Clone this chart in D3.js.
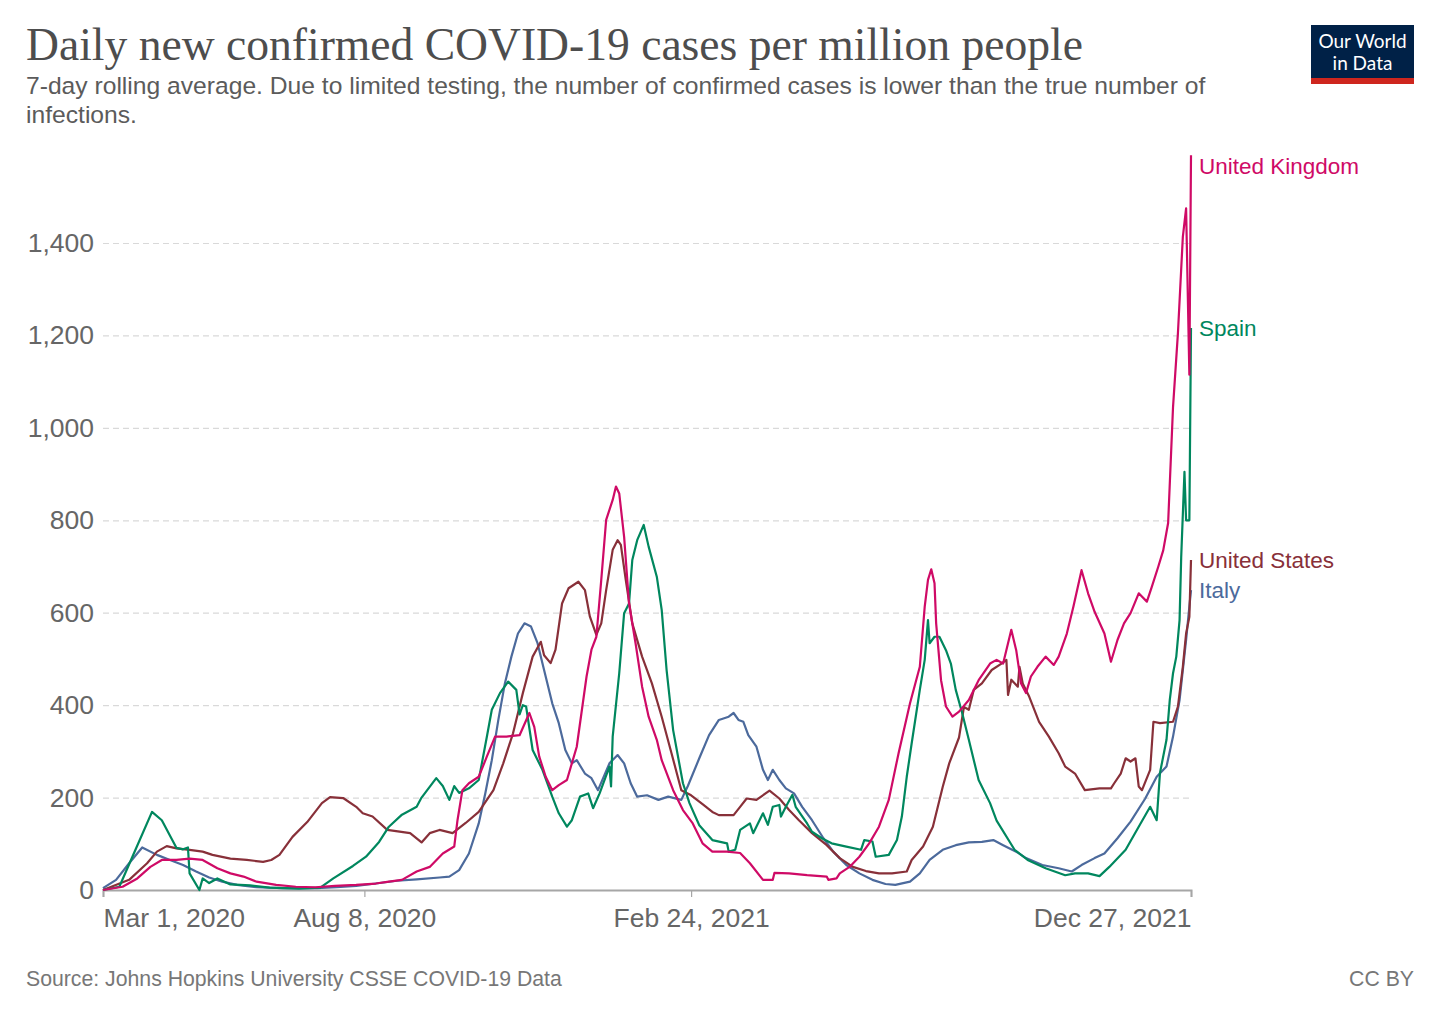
<!DOCTYPE html>
<html><head><meta charset="utf-8">
<script src="https://cdn.jsdelivr.net/npm/d3@7"></script>
<style>body{margin:0;background:#fff} svg{display:block}</style>
</head><body>
<svg id="chart" width="1440" height="1016"></svg>
<script>
const countries = ["United Kingdom","Spain","United States","Italy"];
const colors = ["#CF0A66","#00875E","#883039","#4C6A9C"];

const ukData = [["2020-03-01",0],["2020-03-13",7],["2020-03-22",25],["2020-03-30",50],["2020-04-06",65],["2020-04-15",65],["2020-04-23",68],["2020-05-01",65],["2020-05-10",47],["2020-05-18",36],["2020-05-26",29],["2020-06-03",18],["2020-06-15",11],["2020-06-27",7],["2020-07-09",6],["2020-07-21",9],["2020-08-03",11],["2020-08-15",14],["2020-08-23",18],["2020-08-31",22],["2020-09-09",40],["2020-09-17",50],["2020-09-25",79],["2020-10-02",94],["2020-10-04",151],["2020-10-07",216],["2020-10-11",231],["2020-10-17",245],["2020-10-22",289],["2020-10-27",332],["2020-11-03",332],["2020-11-11",335],["2020-11-17",383],["2020-11-20",353],["2020-11-23",289],["2020-11-27",245],["2020-12-01",216],["2020-12-05",227],["2020-12-10",238],["2020-12-16",310],["2020-12-22",462],["2020-12-25",520],["2020-12-28",548],["2020-12-31",671],["2021-01-03",801],["2021-01-07",844],["2021-01-09",873],["2021-01-11",858],["2021-01-14",764],["2021-01-17",620],["2021-01-21",534],["2021-01-25",440],["2021-01-29",375],["2021-02-03",325],["2021-02-06",281],["2021-02-13",216],["2021-02-19",173],["2021-02-25",144],["2021-03-03",101],["2021-03-09",83],["2021-03-18",83],["2021-03-26",80],["2021-04-01",58],["2021-04-09",22],["2021-04-15",22],["2021-04-16",37],["2021-04-25",36],["2021-05-06",32],["2021-05-18",29],["2021-05-19",22],["2021-05-24",25],["2021-05-26",36],["2021-06-01",50],["2021-06-07",72],["2021-06-13",101],["2021-06-19",137],["2021-06-25",195],["2021-07-01",296],["2021-07-08",404],["2021-07-14",483],["2021-07-17",613],["2021-07-19",671],["2021-07-21",694],["2021-07-23",664],["2021-07-24",577],["2021-07-27",454],["2021-07-30",397],["2021-08-03",375],["2021-08-07",386],["2021-08-13",411],["2021-08-19",454],["2021-08-26",490],["2021-08-30",498],["2021-09-03",490],["2021-09-08",563],["2021-09-11",519],["2021-09-14",447],["2021-09-17",426],["2021-09-20",462],["2021-09-24",483],["2021-09-29",505],["2021-10-04",487],["2021-10-07",505],["2021-10-12",555],["2021-10-16",613],["2021-10-21",692],["2021-10-25",642],["2021-10-29",602],["2021-11-04",555],["2021-11-08",494],["2021-11-12",541],["2021-11-16",577],["2021-11-20",599],["2021-11-25",642],["2021-11-30",624],["2021-12-03",656],["2021-12-07",700],["2021-12-10",735],["2021-12-13",794],["2021-12-16",1045],["2021-12-19",1205],["2021-12-22",1413],["2021-12-24",1475],["2021-12-26",1115],["2021-12-27",1590]];

const spainData = [["2020-03-01",0],["2020-03-11",7],["2020-03-19",72],["2020-03-31",169],["2020-04-06",151],["2020-04-15",91],["2020-04-19",88],["2020-04-22",92],["2020-04-23",36],["2020-04-29",0],["2020-05-01",25],["2020-05-05",15],["2020-05-10",25],["2020-05-18",12],["2020-05-30",10],["2020-06-11",5],["2020-06-29",3],["2020-07-12",5],["2020-07-20",25],["2020-08-01",52],["2020-08-09",72],["2020-08-17",104],["2020-08-23",137],["2020-08-31",163],["2020-09-09",180],["2020-09-12",200],["2020-09-21",242],["2020-09-25",225],["2020-09-29",195],["2020-10-02",225],["2020-10-05",210],["2020-10-11",220],["2020-10-17",238],["2020-10-22",332],["2020-10-25",390],["2020-10-30",426],["2020-11-04",451],["2020-11-09",433],["2020-11-11",380],["2020-11-13",400],["2020-11-15",397],["2020-11-19",303],["2020-11-25",260],["2020-12-01",202],["2020-12-05",166],["2020-12-10",137],["2020-12-13",151],["2020-12-18",202],["2020-12-23",209],["2020-12-26",177],["2020-12-30",209],["2021-01-05",267],["2021-01-06",224],["2021-01-07",332],["2021-01-11",469],["2021-01-14",599],["2021-01-17",620],["2021-01-19",714],["2021-01-22",757],["2021-01-26",790],["2021-01-29",743],["2021-02-03",678],["2021-02-06",606],["2021-02-09",476],["2021-02-13",346],["2021-02-19",231],["2021-02-23",188],["2021-03-01",140],["2021-03-09",108],["2021-03-18",101],["2021-03-19",83],["2021-03-23",87],["2021-03-26",130],["2021-04-01",144],["2021-04-03",123],["2021-04-09",166],["2021-04-12",141],["2021-04-15",180],["2021-04-19",184],["2021-04-20",159],["2021-04-23",180],["2021-04-27",206],["2021-04-29",180],["2021-05-06",144],["2021-05-09",126],["2021-05-15",112],["2021-05-21",101],["2021-05-30",94],["2021-06-08",87],["2021-06-10",108],["2021-06-15",105],["2021-06-17",72],["2021-06-25",76],["2021-06-30",108],["2021-07-03",159],["2021-07-06",245],["2021-07-09",317],["2021-07-14",433],["2021-07-17",498],["2021-07-19",584],["2021-07-20",534],["2021-07-23",548],["2021-07-26",548],["2021-07-30",519],["2021-08-02",490],["2021-08-05",433],["2021-08-09",382],["2021-08-13",325],["2021-08-19",238],["2021-08-26",188],["2021-08-30",150],["2021-09-10",87],["2021-09-18",65],["2021-09-29",47],["2021-10-11",32],["2021-10-17",36],["2021-10-25",36],["2021-11-01",30],["2021-11-07",50],["2021-11-17",87],["2021-11-25",137],["2021-12-02",180],["2021-12-06",151],["2021-12-08",253],["2021-12-12",325],["2021-12-14",411],["2021-12-16",469],["2021-12-18",505],["2021-12-20",584],["2021-12-21",720],["2021-12-23",905],["2021-12-24",800],["2021-12-26",800],["2021-12-27",1216]];

const usData = [["2020-03-01",0],["2020-03-17",22],["2020-03-28",58],["2020-04-03",83],["2020-04-09",95],["2020-04-15",90],["2020-04-23",87],["2020-05-01",83],["2020-05-07",76],["2020-05-18",68],["2020-05-28",65],["2020-06-07",61],["2020-06-12",65],["2020-06-17",76],["2020-06-25",115],["2020-07-04",147],["2020-07-13",188],["2020-07-18",201],["2020-07-26",199],["2020-08-03",180],["2020-08-07",166],["2020-08-13",159],["2020-08-22",130],["2020-09-05",123],["2020-09-12",103],["2020-09-17",123],["2020-09-23",130],["2020-10-01",123],["2020-10-09",145],["2020-10-17",169],["2020-10-26",216],["2020-11-01",274],["2020-11-07",339],["2020-11-13",426],["2020-11-19",505],["2020-11-24",537],["2020-11-26",508],["2020-11-30",491],["2020-12-03",520],["2020-12-07",620],["2020-12-11",653],["2020-12-17",667],["2020-12-21",649],["2020-12-24",592],["2020-12-28",552],["2020-12-31",577],["2021-01-03",649],["2021-01-07",736],["2021-01-10",757],["2021-01-12",747],["2021-01-15",671],["2021-01-19",577],["2021-01-25",505],["2021-01-31",447],["2021-02-06",375],["2021-02-12",296],["2021-02-18",216],["2021-02-24",205],["2021-03-03",186],["2021-03-09",169],["2021-03-13",162],["2021-03-22",162],["2021-03-26",180],["2021-03-30",198],["2021-04-05",195],["2021-04-13",215],["2021-04-19",198],["2021-04-25",173],["2021-05-01",151],["2021-05-09",123],["2021-05-18",97],["2021-05-26",69],["2021-06-03",50],["2021-06-11",41],["2021-06-19",36],["2021-06-27",36],["2021-07-06",40],["2021-07-09",65],["2021-07-16",94],["2021-07-22",137],["2021-07-28",223],["2021-08-01",274],["2021-08-07",330],["2021-08-10",396],["2021-08-13",390],["2021-08-16",433],["2021-08-21",447],["2021-08-27",476],["2021-09-02",490],["2021-09-05",498],["2021-09-06",422],["2021-09-08",455],["2021-09-12",440],["2021-09-13",483],["2021-09-15",447],["2021-09-19",418],["2021-09-25",364],["2021-10-01",332],["2021-10-07",296],["2021-10-11",267],["2021-10-17",252],["2021-10-23",216],["2021-11-01",220],["2021-11-08",220],["2021-11-10",231],["2021-11-14",252],["2021-11-17",285],["2021-11-20",278],["2021-11-23",285],["2021-11-25",224],["2021-11-27",216],["2021-12-02",260],["2021-12-04",364],["2021-12-08",361],["2021-12-16",364],["2021-12-19",397],["2021-12-22",483],["2021-12-24",555],["2021-12-26",591],["2021-12-27",714]];

const italyData = [["2020-03-01",4],["2020-03-09",22],["2020-03-17",58],["2020-03-25",92],["2020-04-03",76],["2020-04-11",65],["2020-04-19",54],["2020-04-27",40],["2020-05-05",27],["2020-05-13",18],["2020-05-22",11],["2020-06-03",6],["2020-06-19",4],["2020-07-10",4],["2020-07-22",6],["2020-08-03",9],["2020-08-15",14],["2020-08-28",20],["2020-09-09",23],["2020-09-23",27],["2020-09-29",29],["2020-10-05",43],["2020-10-11",79],["2020-10-17",144],["2020-10-21",209],["2020-10-25",281],["2020-10-29",368],["2020-11-02",447],["2020-11-06",505],["2020-11-10",555],["2020-11-14",577],["2020-11-18",570],["2020-11-22",534],["2020-11-26",476],["2020-12-01",404],["2020-12-05",361],["2020-12-09",303],["2020-12-13",274],["2020-12-16",281],["2020-12-21",252],["2020-12-25",242],["2020-12-29",216],["2021-01-05",274],["2021-01-10",292],["2021-01-14",274],["2021-01-18",231],["2021-01-22",202],["2021-01-28",205],["2021-02-04",195],["2021-02-10",202],["2021-02-18",195],["2021-02-22",225],["2021-03-01",285],["2021-03-07",335],["2021-03-13",368],["2021-03-19",375],["2021-03-22",383],["2021-03-25",368],["2021-03-28",364],["2021-03-31",335],["2021-04-05",310],["2021-04-09",260],["2021-04-12",238],["2021-04-15",260],["2021-04-19",238],["2021-04-23",220],["2021-04-28",209],["2021-05-03",180],["2021-05-09",151],["2021-05-16",112],["2021-05-22",83],["2021-05-30",54],["2021-06-07",36],["2021-06-15",22],["2021-06-23",13],["2021-06-29",11],["2021-07-08",18],["2021-07-14",36],["2021-07-20",65],["2021-07-28",87],["2021-08-05",97],["2021-08-13",103],["2021-08-21",104],["2021-08-28",108],["2021-09-03",97],["2021-09-11",83],["2021-09-17",69],["2021-09-27",54],["2021-10-07",47],["2021-10-15",40],["2021-10-21",54],["2021-10-29",69],["2021-11-04",79],["2021-11-12",112],["2021-11-20",148],["2021-11-29",198],["2021-12-06",245],["2021-12-12",267],["2021-12-16",332],["2021-12-20",411],["2021-12-24",541],["2021-12-26",613],["2021-12-27",649]];

const seriesData = [ukData, spainData, usData, italyData];
const xTickDates = ["2020-03-01","2020-08-08","2021-02-24","2021-12-27"];
const xTickLabels = ["Mar 1, 2020","Aug 8, 2020","Feb 24, 2021","Dec 27, 2021"];
const yTicks = [0,200,400,600,800,1000,1200,1400];

const titleText = "Daily new confirmed COVID-19 cases per million people";
const subtitleLines = ["7-day rolling average. Due to limited testing, the number of confirmed cases is lower than the true number of","infections."];
const sourceText = "Source: Johns Hopkins University CSSE COVID-19 Data";

const parse = d3.utcParse("%Y-%m-%d");
const svg = d3.select("#chart");
const SANS = "'Liberation Sans', Arial, sans-serif";

const x = d3.scaleUtc().domain([parse("2020-03-01"), parse("2021-12-27")]).range([103, 1191]);
const y = d3.scaleLinear().domain([0, 1400]).range([890, 243]);

function fitText(sel, size, target) {
  const w = sel.node().getComputedTextLength();
  sel.attr("font-size", size * target / w);
}

// Title
const title = svg.append("text").attr("x", 26).attr("y", 60)
  .attr("font-family", "'Liberation Serif', 'DejaVu Serif', serif")
  .attr("font-size", 44).attr("fill", "#4d4d4d").text(titleText);
fitText(title, 44, 1057);

// Subtitle
const sub0 = svg.append("text").attr("x", 26).attr("y", 94)
  .attr("font-family", SANS).attr("font-size", 21).attr("fill", "#5b5b5b").text(subtitleLines[0]);
fitText(sub0, 21, 1180);
svg.append("text").attr("x", 26).attr("y", 123)
  .attr("font-family", SANS).attr("font-size", sub0.attr("font-size")).attr("fill", "#5b5b5b").text(subtitleLines[1]);

// Logo
const logo = svg.append("g");
logo.append("rect").attr("x", 1311).attr("y", 25).attr("width", 103).attr("height", 59).attr("fill", "#002147");
logo.append("rect").attr("x", 1311).attr("y", 78).attr("width", 103).attr("height", 6).attr("fill", "#ce261e");
["Our World", "in Data"].forEach((t, i) => {
  logo.append("text").attr("x", 1362.5).attr("y", 48 + i * 22).attr("text-anchor", "middle")
    .attr("font-family", "Lato, sans-serif").attr("font-size", 19).attr("fill", "#fff").text(t);
});

// Y grid + labels
const yAxis = svg.append("g").attr("transform", "translate(103,0)")
  .call(d3.axisLeft(y).tickValues(yTicks).tickSize(-1088).tickPadding(9).tickFormat(d3.format(",")));
yAxis.select(".domain").remove();
yAxis.selectAll(".tick line").attr("stroke", "#d9d9d9").attr("stroke-width", 1.2).attr("stroke-dasharray", "6,4")
  .filter(d => d === 0).remove();
yAxis.selectAll(".tick text").attr("font-family", SANS).attr("font-size", 26.5).attr("fill", "#666");

// X axis
const xAxis = svg.append("g").attr("transform", "translate(0,890)")
  .call(d3.axisBottom(x).tickValues(xTickDates.map(parse)).tickSize(7).tickPadding(11)
    .tickFormat((d, i) => xTickLabels[i]));
xAxis.select(".domain").attr("stroke", "#a6a6a6").attr("stroke-width", 2);
xAxis.selectAll(".tick line").attr("stroke", "#a6a6a6").attr("stroke-width", 1.2);
xAxis.selectAll(".tick text").attr("font-family", SANS).attr("font-size", 26.5).attr("fill", "#666")
  .attr("text-anchor", (d, i) => i === 0 ? "start" : (i === xTickDates.length - 1 ? "end" : "middle"));

// Lines
const line = d3.line().x(d => x(parse(d[0]))).y(d => y(d[1]));
const order = [3, 2, 1, 0];
order.forEach(i => {
  svg.append("path").datum(seriesData[i]).attr("d", line).attr("fill", "none")
    .attr("stroke", colors[i]).attr("stroke-width", 2.2).attr("stroke-linejoin", "round");
});

// Labels
countries.forEach((c, i) => {
  const last = seriesData[i][seriesData[i].length - 1];
  const ly = Math.max(y(last[1]), 166);
  svg.append("text").attr("x", 1199).attr("y", ly).attr("dy", "0.35em")
    .attr("font-family", SANS).attr("font-size", 22.5).attr("fill", colors[i]).text(c);
});

// Footer
const src = svg.append("text").attr("x", 26).attr("y", 986).attr("font-family", SANS).attr("font-size", 20)
  .attr("fill", "#777").text(sourceText);
fitText(src, 20, 536);
svg.append("text").attr("x", 1414).attr("y", 986).attr("text-anchor", "end").attr("font-family", SANS)
  .attr("font-size", src.attr("font-size")).attr("fill", "#777").text("CC BY");
</script>
</body></html>
